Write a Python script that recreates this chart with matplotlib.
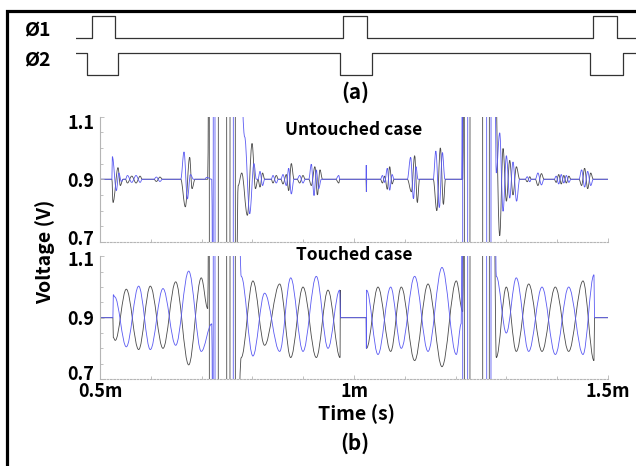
import matplotlib
matplotlib.use("Agg")
import matplotlib.pyplot as plt
import numpy as np
from matplotlib.path import Path
from matplotlib.patches import PathPatch, Rectangle
from matplotlib.ticker import MultipleLocator
from matplotlib.transforms import ScaledTranslation

plt.rcParams['font.family'] = ['Noto Sans CJK KR', 'DejaVu Sans']
plt.rcParams['font.weight'] = 'bold'

# clock phases (time in ms, logic level)
phi1_t = [0.4528, 0.4843, 0.5295, 0.9783, 1.0256, 1.4705, 1.5177, 1.5551]
phi1_lv = [0, 1, 0, 1, 0, 1, 0, 0]
phi2_t = [0.4528, 0.4744, 0.5354, 0.9724, 1.0354, 1.4646, 1.5295, 1.5551]
phi2_lv = [1, 0, 1, 0, 1, 0, 1, 1]

# untouched case, waveform turning points (t [ms], V)
up_black = [
    (0.500, 0.900), (0.5234, 0.900), (0.5256, 0.826), (0.5355, 0.937), (0.5400, 0.880), (0.5453, 0.900),
    (0.5500, 0.900), (0.5540, 0.888), (0.5625, 0.910), (0.5710, 0.888), (0.5790, 0.910), (0.5830, 0.900),
    (0.6060, 0.900), (0.6110, 0.893), (0.6180, 0.907), (0.6230, 0.900),
    (0.6590, 0.900), (0.6680, 0.812), (0.6765, 0.970), (0.6811, 0.870), (0.6870, 0.900),
    (0.7120, 0.900), (0.7150, 1.600), (0.7154, 0.200), (0.7327, 0.200), (0.7331, 1.600),
    (0.7492, 1.600), (0.7496, 0.200), (0.7557, 0.200), (0.7561, 1.600), (0.7662, 1.600), (0.7666, 0.200),
    (0.7720, 0.880), (0.7790, 0.920), (0.7901, 0.785), (0.7993, 1.014), (0.8060, 0.870), (0.8110, 0.900),
    (0.8150, 0.875), (0.8200, 0.920), (0.8242, 0.900),
    (0.8370, 0.900), (0.8405, 0.888), (0.8471, 0.912), (0.8510, 0.900),
    (0.8560, 0.900), (0.8602, 0.885), (0.8668, 0.915), (0.8714, 0.864), (0.8766, 0.950), (0.8819, 0.900),
    (0.8880, 0.900), (0.8930, 0.888), (0.8996, 0.912), (0.9040, 0.900),
    (0.9110, 0.900), (0.9160, 0.880), (0.9230, 0.940), (0.9280, 0.850), (0.9330, 0.930), (0.9380, 0.900),
    (0.9640, 0.900), (0.9700, 0.888), (0.9720, 0.900),
    (1.0238, 0.900), (1.0243, 0.860), (1.0248, 0.900),
    (1.0520, 0.900), (1.0560, 0.888), (1.0604, 0.910), (1.0656, 0.868), (1.0702, 0.940), (1.0750, 0.885), (1.0790, 0.900),
    (1.1050, 0.900), (1.1130, 0.860), (1.1194, 0.975), (1.1247, 0.826), (1.1290, 0.900),
    (1.1560, 0.900), (1.1630, 0.800), (1.1700, 1.000), (1.1760, 0.820), (1.1800, 0.900),
    (1.2140, 0.900), (1.2170, 1.600), (1.2174, 0.200), (1.2281, 0.200), (1.2285, 1.600),
    (1.2531, 1.600), (1.2535, 0.200), (1.2662, 0.200), (1.2666, 1.600), (1.2740, 1.600),
    (1.2868, 0.720), (1.2934, 0.998), (1.3000, 0.830), (1.3065, 0.960), (1.3130, 0.850), (1.3196, 0.940), (1.3261, 0.900),
    (1.3370, 0.900), (1.3410, 0.892), (1.3460, 0.908), (1.3490, 0.900),
    (1.3570, 0.900), (1.3620, 0.880), (1.3690, 0.918), (1.3740, 0.900),
    (1.3940, 0.900), (1.3980, 0.890), (1.4030, 0.915), (1.4080, 0.885), (1.4130, 0.912), (1.4180, 0.888), (1.4230, 0.910), (1.4270, 0.900),
    (1.4430, 0.900), (1.4480, 0.880), (1.4540, 0.935), (1.4600, 0.870), (1.4660, 0.920), (1.4710, 0.900),
    (1.5000, 0.900),
]
up_blue = [
    (0.500, 0.900), (0.5234, 0.900), (0.5243, 0.972), (0.5322, 0.864), (0.5370, 0.920), (0.5420, 0.893), (0.5460, 0.900),
    (0.5500, 0.900), (0.5540, 0.912), (0.5625, 0.890), (0.5710, 0.912), (0.5790, 0.890), (0.5830, 0.900),
    (0.6060, 0.900), (0.6110, 0.907), (0.6180, 0.893), (0.6230, 0.900),
    (0.6590, 0.900), (0.6654, 0.987), (0.6720, 0.837), (0.6780, 0.915), (0.6840, 0.900),
    (0.7060, 0.900), (0.7100, 0.906), (0.7200, 0.900), (0.7227, 0.200), (0.7231, 1.600), (0.7262, 1.600),
    (0.7266, 0.200), (0.7622, 0.200), (0.7626, 1.600), (0.7700, 1.600),
    (0.7848, 1.035), (0.7947, 0.790), (0.8030, 0.950), (0.8077, 0.900),
    (0.8110, 0.900), (0.8150, 0.925), (0.8200, 0.880), (0.8242, 0.900),
    (0.8370, 0.900), (0.8405, 0.912), (0.8471, 0.888), (0.8510, 0.900),
    (0.8560, 0.900), (0.8602, 0.915), (0.8668, 0.880), (0.8714, 0.935), (0.8766, 0.853), (0.8819, 0.900),
    (0.8880, 0.900), (0.8930, 0.912), (0.8996, 0.888), (0.9040, 0.900),
    (0.9110, 0.900), (0.9160, 0.948), (0.9213, 0.848), (0.9258, 0.930), (0.9304, 0.870), (0.9357, 0.900),
    (0.9640, 0.900), (0.9700, 0.912), (0.9720, 0.900),
    (1.0238, 0.900), (1.0241, 0.945), (1.0245, 0.860), (1.0250, 0.900),
    (1.0520, 0.900), (1.0560, 0.912), (1.0604, 0.890), (1.0656, 0.935), (1.0702, 0.865), (1.0750, 0.915), (1.0790, 0.900),
    (1.1050, 0.900), (1.1115, 0.970), (1.1170, 0.838), (1.1220, 0.940), (1.1260, 0.900),
    (1.1560, 0.900), (1.1610, 0.990), (1.1680, 0.810), (1.1740, 0.985), (1.1790, 0.900),
    (1.2120, 0.900), (1.2137, 1.600), (1.2141, 0.200), (1.2236, 0.200), (1.2240, 1.600),
    (1.2610, 1.600), (1.2614, 0.200), (1.2695, 0.200), (1.2699, 1.600), (1.2760, 1.600),
    (1.2800, 0.920), (1.2868, 1.048), (1.2934, 0.798), (1.3000, 0.975), (1.3065, 0.840), (1.3130, 0.955), (1.3200, 0.830), (1.3261, 0.900),
    (1.3370, 0.900), (1.3410, 0.908), (1.3460, 0.892), (1.3490, 0.900),
    (1.3570, 0.900), (1.3620, 0.920), (1.3690, 0.882), (1.3740, 0.900),
    (1.3940, 0.900), (1.3980, 0.910), (1.4030, 0.885), (1.4080, 0.915), (1.4130, 0.888), (1.4180, 0.912), (1.4230, 0.890), (1.4270, 0.900),
    (1.4430, 0.900), (1.4480, 0.930), (1.4540, 0.875), (1.4600, 0.925), (1.4660, 0.880), (1.4710, 0.900),
    (1.5000, 0.900),
]

# touched case
lo_black = [
    (0.500, 0.900), (0.5254, 0.900), (0.5262, 0.835), (0.5300, 0.826), (0.5518, 0.993), (0.5761, 0.796),
    (0.5990, 1.003), (0.6240, 0.800), (0.6490, 1.017), (0.6746, 0.746), (0.6994, 1.030),
    (0.7120, 0.930), (0.7150, 1.600), (0.7154, 0.200), (0.7327, 0.200), (0.7331, 1.600),
    (0.7492, 1.600), (0.7496, 0.200), (0.7557, 0.200), (0.7561, 1.600), (0.7662, 1.600), (0.7666, 0.200),
    (0.7780, 0.770), (0.8010, 1.020), (0.8240, 0.810), (0.8537, 1.010), (0.8754, 0.770), (0.8996, 1.000),
    (0.9258, 0.770), (0.9488, 0.990), (0.9726, 0.770), (0.9731, 0.990), (0.9736, 0.900),
    (1.0240, 0.900), (1.0245, 0.800), (1.0472, 1.000), (1.0722, 0.790), (1.0931, 1.000), (1.1194, 0.760),
    (1.1457, 1.010), (1.1732, 0.740), (1.2014, 1.020),
    (1.2140, 0.920), (1.2170, 1.600), (1.2174, 0.200), (1.2281, 0.200), (1.2285, 1.600),
    (1.2531, 1.600), (1.2535, 0.200), (1.2662, 0.200), (1.2666, 1.600), (1.2740, 1.600),
    (1.2801, 0.770), (1.2998, 1.000), (1.3195, 0.790), (1.3439, 1.010), (1.3701, 0.790), (1.3963, 1.000),
    (1.4226, 0.790), (1.4508, 1.020), (1.4724, 0.760), (1.4735, 0.900), (1.5000, 0.900),
]
lo_blue = [
    (0.500, 0.900), (0.5254, 0.900), (0.5262, 0.975), (0.5289, 0.968), (0.5518, 0.805), (0.5761, 1.003),
    (0.5990, 0.796), (0.6240, 0.995), (0.6490, 0.810), (0.6746, 1.052), (0.6994, 0.790),
    (0.7200, 0.880), (0.7227, 0.200), (0.7231, 1.600), (0.7262, 1.600), (0.7266, 0.200),
    (0.7622, 0.200), (0.7626, 1.600), (0.7700, 1.600),
    (0.7780, 1.035), (0.8010, 0.775), (0.8240, 0.980), (0.8537, 0.790), (0.8754, 1.030), (0.8996, 0.790),
    (0.9258, 1.035), (0.9488, 0.800), (0.9718, 0.990), (0.9736, 0.900),
    (1.0240, 0.900), (1.0243, 0.800), (1.0247, 0.990), (1.0472, 0.780), (1.0722, 1.000), (1.0931, 0.800),
    (1.1194, 1.035), (1.1457, 0.790), (1.1732, 1.064), (1.2014, 0.780),
    (1.2110, 0.880), (1.2137, 1.600), (1.2141, 0.200), (1.2236, 0.200), (1.2240, 1.600),
    (1.2610, 1.600), (1.2614, 0.200), (1.2695, 0.200), (1.2699, 1.600), (1.2760, 1.600),
    (1.2801, 1.035), (1.2998, 0.850), (1.3195, 1.030), (1.3439, 0.790), (1.3701, 1.000), (1.3963, 0.780),
    (1.4226, 1.000), (1.4508, 0.780), (1.4724, 1.040), (1.4735, 0.900), (1.5000, 0.900),
]

x_ticks = [0.5, 1.0, 1.5]
x_labels = ['0.5m', '1m', '1.5m']
y_ticks = [0.7, 0.9, 1.1]
y_labels = ['0.7', '0.9', '1.1']

BLACK = '#4a4a4a'
BLUE = '#5a5af2'
W, H = 636, 466


def wave(ax, pts, color):
    # smooth curve through the turning points (flat tangent at each one)
    verts = [pts[0]]
    codes = [Path.MOVETO]
    for (t0, v0), (t1, v1) in zip(pts[:-1], pts[1:]):
        d = t1 - t0
        verts += [(t0 + 0.36 * d, v0), (t1 - 0.36 * d, v1), (t1, v1)]
        codes += [Path.CURVE4] * 3
    ax.add_patch(PathPatch(Path(verts, codes), fill=False, edgecolor=color, lw=0.6))


def style(ax, labels, shift_bot, shift_top):
    ax.set_xlim(0.5, 1.5)
    ax.set_ylim(0.7, 1.1)
    for s in ['top', 'right']:
        ax.spines[s].set_visible(False)
    ax.spines['left'].set_color('#b5b5b5')
    ax.spines['left'].set_linewidth(0.8)
    ax.spines['bottom'].set_color('#b5b5b5')
    ax.spines['bottom'].set_linewidth(0.8)
    ax.spines['bottom'].set_linestyle((0, (1.5, 1.5)))
    ax.set_yticks(y_ticks)
    ax.set_yticklabels(y_labels, fontsize=13, fontweight='bold')
    ax.yaxis.set_minor_locator(MultipleLocator(0.05))
    ax.set_xticks(x_ticks)
    if labels:
        ax.set_xticklabels(x_labels, fontsize=13, fontweight='bold')
    else:
        ax.set_xticklabels([])
    ax.xaxis.set_minor_locator(MultipleLocator(0.1))
    ax.tick_params(which='both', color='#b5b5b5', width=0.6, direction='in')
    ax.tick_params(which='major', length=3, pad=2)
    ax.tick_params(which='minor', length=2)
    ax.tick_params(axis='y', pad=4)
    # end labels sit slightly inside the axis range
    lbls = ax.get_yticklabels()
    lbls[0].set_transform(lbls[0].get_transform() + ScaledTranslation(0, shift_bot / 100, fig.dpi_scale_trans))
    lbls[-1].set_transform(lbls[-1].get_transform() + ScaledTranslation(0, -shift_top / 100, fig.dpi_scale_trans))


fig = plt.figure(figsize=(W / 100, H / 100), dpi=100)

# timing diagram
ax_clk = fig.add_axes([76 / W, 1 - 80 / H, 560 / W, 70 / H])
ax_clk.set_xlim(phi1_t[0], phi1_t[-1])
ax_clk.set_ylim(-0.23, 2.95)
ax_clk.step(phi1_t, np.array(phi1_lv) + 1.68, where='post', color='#333333', lw=0.9)
ax_clk.step(phi2_t, phi2_lv, where='post', color='#333333', lw=0.9)
ax_clk.axis('off')

ax_up = fig.add_axes([100 / W, 1 - 242 / H, 508 / W, 125.5 / H])
ax_lo = fig.add_axes([100 / W, 1 - 379 / H, 508 / W, 122.6 / H])

wave(ax_up, up_black, BLACK)
wave(ax_up, up_blue, BLUE)
wave(ax_lo, lo_black, BLACK)
wave(ax_lo, lo_blue, BLUE)
style(ax_up, False, 4, 5)
style(ax_lo, True, 7, 2)

ax_up.text(0.5, 0.89, 'Untouched case', transform=ax_up.transAxes, ha='center', va='center',
           fontsize=12.5, fontweight='bold')
ax_lo.text(0.5, 1.01, 'Touched case', transform=ax_lo.transAxes, ha='center', va='center',
           fontsize=12.5, fontweight='bold')

fig.text(37 / W, 1 - 31 / H, 'Ø1', ha='center', va='center', fontsize=14, fontweight='bold')
fig.text(37 / W, 1 - 61 / H, 'Ø2', ha='center', va='center', fontsize=14, fontweight='bold')
fig.text(355 / W, 1 - 92 / H, '(a)', ha='center', va='center', fontsize=15, fontweight='bold')
fig.text(45 / W, 1 - 252 / H, 'Voltage (V)', ha='center', va='center', rotation=90,
         fontsize=14, fontweight='bold')
fig.text(356 / W, 1 - 414 / H, 'Time (s)', ha='center', va='center', fontsize=14, fontweight='bold')
fig.text(355 / W, 1 - 443 / H, '(b)', ha='center', va='center', fontsize=15, fontweight='bold')

# outer frame (runs off the right and bottom edges)
fig.add_artist(Rectangle((6.5 / W, -0.2), 1.5, 1.2 - 10.5 / H, transform=fig.transFigure,
                         fill=False, edgecolor='black', lw=2.3))

fig.savefig('out.png', dpi=100)
